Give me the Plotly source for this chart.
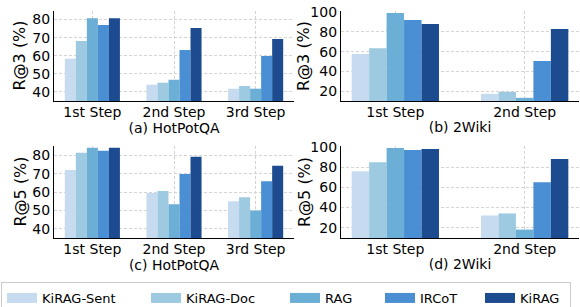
import plotly.graph_objects as go

# ---------------- data ----------------
methods = ["KiRAG-Sent", "KiRAG-Doc", "RAG", "IRCoT", "KiRAG"]
colors = ["#c6dbef", "#9ecae1", "#6baed6", "#4a8fd4", "#1d4b8f"]

steps_hotpot = ["1st Step", "2nd Step", "3rd Step"]
steps_2wiki = ["1st Step", "2nd Step"]

# (a) HotPotQA, R@3
hotpot_r3_sent = [58.3, 44.0, 41.8]
hotpot_r3_doc = [68.1, 45.1, 43.3]
hotpot_r3_rag = [80.7, 46.8, 41.8]
hotpot_r3_ircot = [76.9, 63.2, 59.9]
hotpot_r3_kirag = [80.7, 75.3, 69.2]

# (b) 2Wiki, R@3
wiki_r3_sent = [57.7, 17.7]
wiki_r3_doc = [63.3, 19.7]
wiki_r3_rag = [98.7, 13.7]
wiki_r3_ircot = [91.7, 50.7]
wiki_r3_kirag = [87.7, 82.7]

# (c) HotPotQA, R@5
hotpot_r5_sent = [72.0, 59.5, 55.0]
hotpot_r5_doc = [81.3, 60.5, 57.2]
hotpot_r5_rag = [84.0, 53.3, 50.0]
hotpot_r5_ircot = [82.4, 69.8, 65.9]
hotpot_r5_kirag = [84.0, 79.1, 74.2]

# (d) 2Wiki, R@5
wiki_r5_sent = [75.9, 32.2]
wiki_r5_doc = [84.8, 34.2]
wiki_r5_rag = [98.7, 18.3]
wiki_r5_ircot = [96.7, 65.0]
wiki_r5_kirag = [97.7, 87.8]

panels = [
    ("x", "y", steps_hotpot, [hotpot_r3_sent, hotpot_r3_doc, hotpot_r3_rag, hotpot_r3_ircot, hotpot_r3_kirag]),
    ("x2", "y2", steps_2wiki, [wiki_r3_sent, wiki_r3_doc, wiki_r3_rag, wiki_r3_ircot, wiki_r3_kirag]),
    ("x3", "y3", steps_hotpot, [hotpot_r5_sent, hotpot_r5_doc, hotpot_r5_rag, hotpot_r5_ircot, hotpot_r5_kirag]),
    ("x4", "y4", steps_2wiki, [wiki_r5_sent, wiki_r5_doc, wiki_r5_rag, wiki_r5_ircot, wiki_r5_kirag]),
]

FONT = "DejaVu Sans"

fig = go.Figure()
for xa, ya, cats, series in panels:
    for name, col, vals in zip(methods, colors, series):
        fig.add_trace(go.Bar(
            x=cats, y=vals, name=name, marker=dict(color=col, line=dict(width=0)),
            xaxis=xa, yaxis=ya, showlegend=False, offsetgroup=name,
        ))

# legend proxies (wide rectangular swatches like the original)
legend_widths = [99, 94, 50, 55, 45]
for name, col, lw in zip(methods, colors, legend_widths):
    fig.add_trace(go.Scatter(
        x=[None], y=[None], mode="lines", name=name,
        line=dict(color=col, width=10), xaxis="x", yaxis="y",
        showlegend=True, legendwidth=lw, hoverinfo="skip",
    ))

W, H = 580, 307
xa_dom = [54 / W, 294 / W]
xb_dom = [341 / W, 579 / W]
top_dom = [1 - 101 / H, 1 - 11 / H]
bot_dom = [1 - 238 / H, 1 - 146 / H]

grid = dict(showgrid=True, gridcolor="#d4d4d4", gridwidth=0.8, griddash="3px,2px")
line = dict(showline=True, linecolor="black", linewidth=1.3, mirror=False, zeroline=False,
            ticks="", automargin=False)


def xaxis(domain, anchor, rng, title):
    return dict(domain=domain, anchor=anchor, type="category", range=rng,
                tickfont=dict(size=14, family=FONT, color="black"),
                ticklabelstandoff=-2,
                title=dict(text=title, font=dict(size=14, family=FONT, color="black"), standoff=3),
                **grid, **line)


def yaxis(domain, anchor, rng, dtick):
    return dict(domain=domain, anchor=anchor, range=rng, dtick=dtick,
                tickfont=dict(size=14, family=FONT, color="black"),
                ticklabelstandoff=0,
                **grid, **line)


# y-axis titles (placed as rotated text next to the tick labels)
ytitles = [
    ("R@3 (%)", 19.5 / W, sum(top_dom) / 2),
    ("R@3 (%)", 304 / W, sum(top_dom) / 2),
    ("R@5 (%)", 19.5 / W, sum(bot_dom) / 2),
    ("R@5 (%)", 304 / W, sum(bot_dom) / 2),
]
annotations = [
    dict(text=t, x=x, y=y, xref="paper", yref="paper", xanchor="center", yanchor="middle",
         textangle=-90, showarrow=False, font=dict(size=16, family=FONT, color="black"))
    for t, x, y in ytitles
]

fig.update_layout(
    template="none",
    width=W, height=H,
    margin=dict(l=0, r=0, t=0, b=0, autoexpand=False),
    paper_bgcolor="white", plot_bgcolor="white",
    barmode="group", bargap=0.325, bargroupgap=0,
    font=dict(family=FONT, color="black"),
    xaxis=xaxis(xa_dom, "y", [-0.47, 2.47], "(a) HotPotQA"),
    yaxis=yaxis(top_dom, "x", [35, 84.7], 10),
    xaxis2=xaxis(xb_dom, "y2", [-0.42, 1.42], "(b) 2Wiki"),
    yaxis2=yaxis(top_dom, "x2", [10.5, 100.7], 20),
    xaxis3=xaxis(xa_dom, "y3", [-0.47, 2.47], "(c) HotPotQA"),
    yaxis3=yaxis(bot_dom, "x3", [35, 85], 10),
    xaxis4=xaxis(xb_dom, "y4", [-0.42, 1.42], "(d) 2Wiki"),
    yaxis4=yaxis(bot_dom, "x4", [10, 100.7], 20),
    annotations=annotations,
    legend=dict(
        orientation="h", x=1 / W, xanchor="left", y=1 - 282 / H, yanchor="top",
        bordercolor="#cccccc", borderwidth=1, bgcolor="white",
        font=dict(size=13, family=FONT, color="black"),
    ),
)

fig.write_html(
    "out.html",
    config={"displayModeBar": False},
    post_script="document.body.style.margin='0';document.body.style.overflow='hidden';",
)
